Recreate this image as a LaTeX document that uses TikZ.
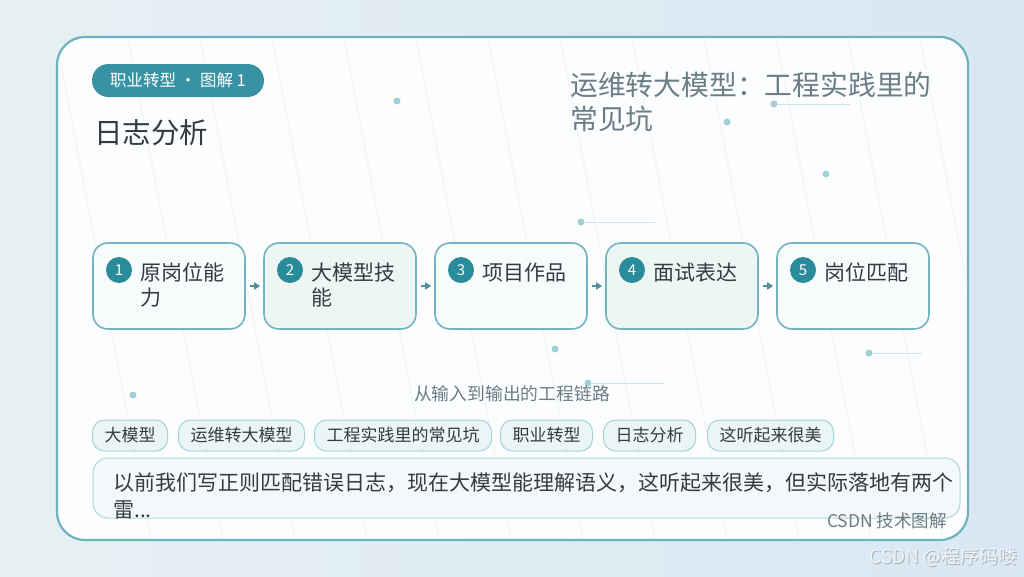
\documentclass[tikz,border=0pt]{standalone}
\usepackage{fontspec}
\setmainfont{Noto Sans CJK SC}
\usetikzlibrary{arrows.meta,positioning}
\definecolor{bgleft}{HTML}{E6F1F3}
\definecolor{bgright}{HTML}{D8E7F3}
\definecolor{cardfill}{HTML}{FBFDFE}
\definecolor{cardline}{HTML}{6FB2BE}
\definecolor{faint}{HTML}{EDF2F4}
\definecolor{pillfill}{HTML}{3793A3}
\definecolor{numfill}{HTML}{2A8C9A}
\definecolor{boxline}{HTML}{74B4BF}
\definecolor{boxwhite}{HTML}{F7FBFC}
\definecolor{boxgreen}{HTML}{EDF6F3}
\definecolor{arrowc}{HTML}{4F8F9B}
\definecolor{inkdark}{HTML}{333C42}
\definecolor{inkgrey}{HTML}{6B7D86}
\definecolor{dotc}{HTML}{A3CFD7}
\definecolor{dotline}{HTML}{CFE3E8}
\definecolor{tagfill}{HTML}{EAF5F6}
\definecolor{tagline}{HTML}{A6D3D8}
\definecolor{quotefill}{HTML}{F3F9FA}
\definecolor{quoteline}{HTML}{B1D8DC}
\definecolor{markshadow}{HTML}{A9B3BA}
\definecolor{markfill}{HTML}{EEF3F6}

\begin{document}
\begin{tikzpicture}[x=1pt, y=-1pt, line join=round,
  stepbox/.style={draw=boxline, line width=1.6pt, rounded corners=15pt, minimum width=152pt, minimum height=86pt, inner sep=0pt},
  numdot/.style={circle, fill=numfill, text=white, minimum size=26pt, inner sep=0pt, font=\fontsize{15}{15}\selectfont},
  steplabel/.style={anchor=north west, inner sep=0pt, text width=90pt, align=left, text=inkdark, font=\fontsize{21}{25}\selectfont},
  tagbox/.style={draw=tagline, fill=tagfill, line width=1pt, rounded corners=12pt, minimum height=31pt, inner xsep=12pt, text=inkdark, font=\fontsize{17}{17}\selectfont},
  deco/.style={circle, fill=dotc, minimum size=7pt, inner sep=0pt},
  link/.style={-{Triangle[length=6pt,width=7pt]}, draw=arrowc, line width=2pt, shorten <=4pt, shorten >=3pt}]

% background and card
\shade[left color=bgleft, right color=bgright] (0,0) rectangle (1024,576);
\draw[draw=cardline, fill=cardfill, line width=2.2pt, rounded corners=28pt] (57,37) rectangle (968,540);
\begin{scope}
\clip[rounded corners=28pt] (58,38) rectangle (967,539);
\foreach \x in {56,128,...,1000}
  \draw[color=faint, line width=0.8pt] (\x,37) -- ++(95,503);
\end{scope}

% decoration dots
\foreach \p in {(397,101),(727,122),(826,174),(555,349),(133,395)}
  \node[deco] at \p {};
\node[deco] (d1) at (774,104) {};
\coordinate (e1) at (850,104);
\node[deco] (d2) at (581,222) {};
\coordinate (e2) at (655,222);
\node[deco] (d3) at (869,353) {};
\coordinate (e3) at (922,353);
\node[deco] (d4) at (588,383) {};
\coordinate (e4) at (664,383);
\foreach \i in {1,...,4}
  \draw[dotline, line width=1pt] (d\i) -- (e\i);

% header
\node[fill=pillfill, text=white, rounded corners=16.5pt, minimum width=172pt, minimum height=33pt, inner sep=0pt, font=\fontsize{16.5}{16.5}\selectfont] (pill) at (178,80.5) {职业转型 · 图解 1};
\node[anchor=west, inner sep=0pt, text=inkdark, font=\fontsize{28.5}{28.5}\selectfont] (title) at (94,133) {日志分析};
\node[anchor=north west, inner sep=0pt, align=left, text=inkgrey, font=\fontsize{27.8}{34}\selectfont] (subtitle) at (570,72) {运维转大模型：工程实践里的\\常见坑};

% steps
\node[stepbox, fill=boxwhite] (s1) at (169,286) {};
\node[stepbox, fill=boxgreen] (s2) at (340,286) {};
\node[stepbox, fill=boxwhite] (s3) at (511,286) {};
\node[stepbox, fill=boxgreen] (s4) at (682,286) {};
\node[stepbox, fill=boxwhite] (s5) at (853,286) {};
\node[numdot] (n1) at (119,270) {1};
\node[numdot] (n2) at (290,270) {2};
\node[numdot] (n3) at (461,270) {3};
\node[numdot] (n4) at (632,270) {4};
\node[numdot] (n5) at (803,270) {5};
\node[steplabel] (l1) at (140,263) {原岗位能\\力};
\node[steplabel] (l2) at (311,263) {大模型技\\能};
\node[steplabel] (l3) at (482,263) {项目作品};
\node[steplabel] (l4) at (653,263) {面试表达};
\node[steplabel] (l5) at (824,263) {岗位匹配};
\draw[link] (s1) -- (s2);
\draw[link] (s2) -- (s3);
\draw[link] (s3) -- (s4);
\draw[link] (s4) -- (s5);

\node[text=inkgrey, font=\fontsize{17.8}{17.8}\selectfont] (caption) at (512,394) {从输入到输出的工程链路};

% tags
\node[tagbox, anchor=west] (t1) at (92,435.5) {大模型};
\node[tagbox, right=10pt of t1] (t2) {运维转大模型};
\node[tagbox, right=9pt of t2] (t3) {工程实践里的常见坑};
\node[tagbox, right=8pt of t3] (t4) {职业转型};
\node[tagbox, right=10pt of t4] (t5) {日志分析};
\node[tagbox, right=11pt of t5] (t6) {这听起来很美};

% quote
\node[draw=quoteline, fill=quotefill, line width=1pt, rounded corners=15pt, minimum width=867pt, minimum height=60pt, inner sep=0pt] (q) at (526.5,488) {};
\node[anchor=north west, inner sep=0pt, text width=850pt, align=left, text=inkdark, font=\fontsize{21}{27}\selectfont] (qt) at (113,473) {以前我们写正则匹配错误日志，现在大模型能理解语义，这听起来很美，但实际落地有两个\\雷...};

% footer
\node[anchor=base east, inner sep=0pt, text=inkgrey, font=\fontsize{17.5}{17.5}\selectfont] (foot) at (947,527) {CSDN 技术图解};
\node[anchor=base east, inner sep=0pt, text=markshadow, font=\fontsize{19}{19}\selectfont] (markbg) at (1019,564) {CSDN @程序码喽};
\node[anchor=base east, inner sep=0pt, text=markfill, font=\fontsize{19}{19}\selectfont] (mark) at (1018,563) {CSDN @程序码喽};
\end{tikzpicture}
\end{document}
